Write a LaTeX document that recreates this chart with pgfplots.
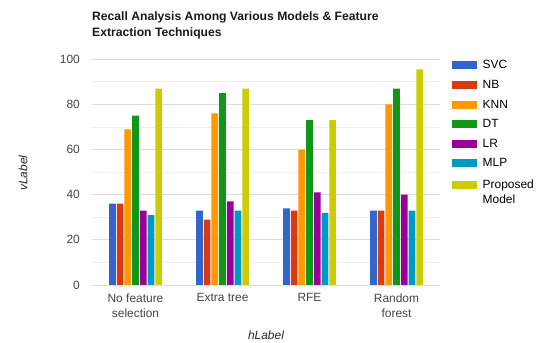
\documentclass[border=0pt]{standalone}
\usepackage{fontspec}
\setmainfont{Liberation Sans}
\usepackage{pgfplots}
\pgfplotsset{compat=1.18}

\definecolor{cSVC}{HTML}{3366CC}
\definecolor{cNB}{HTML}{DC3912}
\definecolor{cKNN}{HTML}{FF9900}
\definecolor{cDT}{HTML}{109618}
\definecolor{cLR}{HTML}{990099}
\definecolor{cMLP}{HTML}{0099C6}
\definecolor{cProp}{HTML}{CCCC00}
\definecolor{ticktext}{HTML}{444444}
\definecolor{gridmajor}{HTML}{DDDDDD}
\definecolor{gridminor}{HTML}{EEEEEE}
\definecolor{baseline}{HTML}{999999}

\newcommand{\px}{\fontsize{12}{15}\selectfont}

\begin{document}
\begin{tikzpicture}
\useasboundingbox (0,0) rectangle (540bp,343bp);
% chart title, top left above the plot area
\node[anchor=north west, inner sep=0, align=left, font=\fontsize{12.2}{16.5}\selectfont\bfseries, text=black!90]
  at (92bp,332bp) {Recall Analysis Among Various Models \& Feature\\Extraction Techniques};
\begin{axis}[
  at={(92bp,58bp)}, anchor=south west,
  scale only axis, width=348bp, height=225.7bp,
  xmin=-0.5, xmax=3.5, ymin=0, ymax=100,
  ybar=1bp, bar width=6.7bp,
  xtick={0,1,2,3},
  xticklabels={{No feature\\selection},{Extra tree},{RFE},{Random\\forest}},
  ytick={0,20,...,100}, minor ytick={10,30,...,90},
  ymajorgrids, yminorgrids,
  major grid style={draw=gridmajor, line width=0.8bp},
  minor grid style={draw=gridminor, line width=0.8bp},
  extra y ticks={0}, extra y tick labels={},
  extra y tick style={grid style={draw=baseline, line width=1.3bp}},
  axis line style={draw=none},
  major tick length=0, minor tick length=0,
  /pgf/number format/assume math mode=true,
  tick label style={font=\px, text=ticktext},
  yticklabel style={anchor=east, inner sep=0, xshift=-12bp},
  xticklabel style={anchor=north, inner sep=0, align=center, yshift=-8.5bp},
  xlabel={\itshape hLabel},
  xlabel style={at={(axis description cs:0.5,-0.2215)}, anchor=center, inner sep=0, font=\px, text=black!85},
  ylabel={\itshape vLabel},
  ylabel style={at={(axis description cs:-0.198,0.496)}, anchor=center, inner sep=0, rotate=0, font=\px, text=black!85},
  legend style={at={(1.0345,1.004)}, anchor=north west, draw=none, fill=none,
    font=\px, row sep=5.9bp, column sep=3.5bp, inner sep=0,
    cells={anchor=base west}},
  legend image code/.code={\fill[#1] (0bp,-0.5bp) rectangle (25bp,7.5bp);},
]
\addplot[fill=cSVC, draw=none] coordinates {(0,36) (1,33) (2,34) (3,33)};
\addlegendentry{SVC}
\addplot[fill=cNB, draw=none] coordinates {(0,36) (1,29) (2,33) (3,33)};
\addlegendentry{NB}
\addplot[fill=cKNN, draw=none] coordinates {(0,69) (1,76) (2,60) (3,80)};
\addlegendentry{KNN}
\addplot[fill=cDT, draw=none] coordinates {(0,75) (1,85) (2,73) (3,87)};
\addlegendentry{DT}
\addplot[fill=cLR, draw=none] coordinates {(0,33) (1,37) (2,41) (3,40)};
\addlegendentry{LR}
\addplot[fill=cMLP, draw=none] coordinates {(0,31) (1,33) (2,32) (3,33)};
\addlegendentry{MLP}
\addplot[fill=cProp, draw=none] coordinates {(0,87) (1,87) (2,73) (3,95.5)};
\addlegendentry{\begin{tabular}[t]{@{}l@{}}Proposed\\Model\end{tabular}}
\end{axis}
\end{tikzpicture}
\end{document}
